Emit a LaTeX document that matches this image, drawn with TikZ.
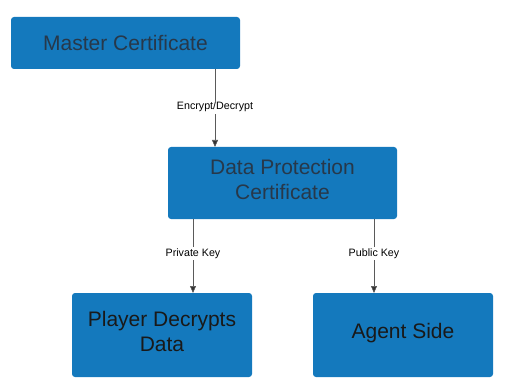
\documentclass[tikz,border=0pt]{standalone}
\usepackage{fontspec}
\setmainfont{Liberation Sans}
\usetikzlibrary{arrows.meta}
\definecolor{boxblue}{HTML}{1479BD}
\definecolor{boxtext}{HTML}{27384A}
\definecolor{linegray}{HTML}{5A5A5A}
\begin{document}
\begin{tikzpicture}[x=1pt,y=-1pt,
  bluebox/.style={fill=boxblue,draw=none,rounded corners=3pt,text=boxtext,font=\fontsize{21}{25}\selectfont,align=center,inner sep=0pt},
  conn/.style={draw=linegray,line width=0.6pt,-{Triangle[length=7pt,width=6pt,fill=black!80]}},
  lbl/.style={fill=white,font=\fontsize{10.7}{12}\selectfont,text=black,inner sep=1.5pt}]
\useasboundingbox (0,0) rectangle (513,390);
\node[bluebox,minimum width=229pt,minimum height=52pt] (master) at (125.5,43) {Master Certificate};
\node[bluebox,minimum width=229pt,minimum height=72pt] (dpc) at (282.5,183) {};
\node[bluebox,fill=none] (dpct) at (282.5,179.5) {Data Protection\\Certificate};
\node[bluebox,minimum width=180pt,minimum height=84pt] (player) at (162,335) {};
\node[bluebox,fill=none,text=black!90] (playert) at (162,331.5) {Player Decrypts\\Data};
\node[bluebox,minimum width=180pt,minimum height=84pt] (agent) at (403,335) {};
\node[bluebox,fill=none,text=black!90] (agentt) at (403,333) {Agent Side};
\coordinate (m1) at (215,69);
\coordinate (m2) at (215,147);
\coordinate (d1) at (193,219);
\coordinate (d2) at (193,293);
\coordinate (d3) at (374,219);
\coordinate (d4) at (374,293);
\draw[conn] (m1) -- node[lbl,pos=0.49] (l1) {Encrypt/Decrypt} (m2);
\draw[conn] (d1) -- node[lbl,pos=0.47] (l2) {Private Key} (d2);
\draw[conn] (d3) -- node[lbl,pos=0.47] (l3) {Public Key} (d4);
\end{tikzpicture}
\end{document}
